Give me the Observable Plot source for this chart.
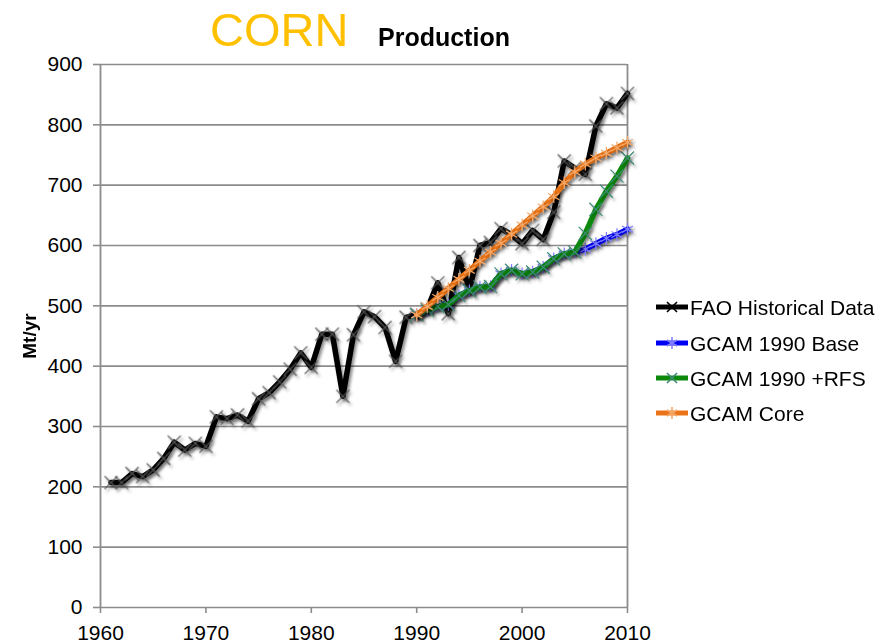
<!DOCTYPE html>
<html>
<head>
<meta charset="utf-8">
<script src="https://cdn.jsdelivr.net/npm/d3@7"></script>
<script src="https://cdn.jsdelivr.net/npm/@observablehq/plot@0.6"></script>
<style>
  html, body { margin: 0; padding: 0; background: #fff; }
  #wrap { position: relative; width: 879px; height: 644px; overflow: hidden; }
  #chart svg { position: absolute; left: 0; top: 0; }
  #overlay { position: absolute; left: 0; top: 0; pointer-events: none; }
</style>
</head>
<body>
<div id="wrap">
  <div id="chart"></div>
  <svg id="overlay" width="879" height="644"></svg>
</div>
<script>
// ---- data ----
const faoYears = [1961,1962,1963,1964,1965,1966,1967,1968,1969,1970,
                  1971,1972,1973,1974,1975,1976,1977,1978,1979,1980,
                  1981,1982,1983,1984,1985,1986,1987,1988,1989,1990,
                  1991,1992,1993,1994,1995,1996,1997,1998,1999,2000,
                  2001,2002,2003,2004,2005,2006,2007,2008,2009,2010];
const faoValues = [207,207,222,217,228,247,274,261,272,267,
                   316,313,319,309,346,356,374,395,422,398,
                   453,453,350,452,490,482,464,408,481,486,
                   495,538,487,580,527,600,605,628,618,603,
                   625,610,655,740,728,718,798,835,828,852];
const gcamYears = [1990,1991,1992,1993,1994,1995,1996,1997,1998,1999,2000,
                   2001,2002,2003,2004,2005,2006,2007,2008,2009,2010];
const base1990Values = [485,493,499,502,517,525,531,532,553,559,553,
                        556,564,578,586,589,594,603,612,618,627];
const rfs1990Values  = [485,493,499,502,517,525,531,532,553,559,553,
                        556,564,578,586,589,620,660,690,715,745];
const coreValues     = [485,499,514,529,544,559,574,589,604,619,634,
                        649,664,681,704,722,735,745,753,762,771];
const seriesNames = ["FAO Historical Data","GCAM 1990 Base","GCAM 1990 +RFS","GCAM Core"];
const xTicks = [1960,1970,1980,1990,2000,2010];
const yTicks = [0,100,200,300,400,500,600,700,800,900];

const fao = faoYears.map((y,i)=>({year:y, value:faoValues[i]}));
const base = gcamYears.map((y,i)=>({year:y, value:base1990Values[i]}));
const rfs = gcamYears.map((y,i)=>({year:y, value:rfs1990Values[i]}));
const core = gcamYears.map((y,i)=>({year:y, value:coreValues[i]}));

const styles = [
  {line:"#000000", mark:"#555555", symbol:"times"},
  {line:"#0000f5", mark:"#8080ff", symbol:"asterisk"},
  {line:"#0a890a", mark:"#3d8a78", symbol:"times"},
  {line:"#ec7418", mark:"#f5a868", symbol:"asterisk"}
];
const datasets = [fao, base, rfs, core];

const seriesMarks = [];
datasets.forEach((d,i)=>{
  seriesMarks.push(Plot.line(d, {x:"year", y:"value", stroke:styles[i].line, strokeWidth:5.5, strokeLinejoin:"round", strokeLinecap:"round"}));
  seriesMarks.push(Plot.dot(d, {x:"year", y:"value", symbol:styles[i].symbol, r:6, stroke:styles[i].mark, strokeWidth:1.2}));
});

const chart = Plot.plot({
  width: 879,
  height: 644,
  marginLeft: 100,
  marginRight: 252,
  marginTop: 64,
  marginBottom: 37,
  style: {fontFamily: "'Liberation Sans', Arial, sans-serif", fontSize: "21px", color: "#000", background: "transparent"},
  x: {domain: [1960, 2010]},
  y: {domain: [0, 900]},
  marks: [
    Plot.ruleY(yTicks, {stroke: "#8c8c8c", strokeWidth: 1.6}),
    Plot.ruleX([1960, 2010], {stroke: "#8c8c8c", strokeWidth: 1.8}),
    Plot.axisX({ticks: xTicks, tickFormat: d => String(d), tickSize: 6, tickPadding: 12, stroke: "#8c8c8c", strokeWidth: 1.6, label: null}),
    Plot.axisY({ticks: yTicks, tickSize: 7, tickPadding: 11, stroke: "#8c8c8c", strokeWidth: 1.6, label: null}),
    ...seriesMarks
  ]
});
document.getElementById("chart").appendChild(chart);

// drop shadow on series
const ns = "http://www.w3.org/2000/svg";
const defs = document.createElementNS(ns, "defs");
defs.innerHTML = '<filter id="shadow" x="-20%" y="-20%" width="140%" height="140%"><feDropShadow dx="2" dy="2.5" stdDeviation="1.4" flood-color="#000" flood-opacity="0.45"/></filter>';
chart.insertBefore(defs, chart.firstChild);
chart.querySelectorAll('g[aria-label="line"], g[aria-label="dot"]').forEach(g => g.setAttribute("filter", "url(#shadow)"));

// overlay: title, y label, legend
const ov = d3.select("#overlay");
ov.append("text").attr("x", 210).attr("y", 46).attr("font-family", "'Liberation Sans', Arial, sans-serif")
  .attr("font-size", 47).attr("fill", "#ffc000").text("CORN");
ov.append("text").attr("x", 378).attr("y", 46).attr("font-family", "'Liberation Sans', Arial, sans-serif")
  .attr("font-size", 25).attr("font-weight", "bold").attr("fill", "#000").text("Production");
ov.append("text").attr("transform", "translate(36,336) rotate(-90)").attr("text-anchor", "middle")
  .attr("font-family", "'Liberation Sans', Arial, sans-serif").attr("font-size", 19).attr("font-weight", "bold")
  .attr("fill", "#000").text("Mt/yr");

const legendY = [307, 343, 378, 413];
const symPath = {
  times: "M-5,-5L5,5M-5,5L5,-5",
  asterisk: "M0,-6L0,6M-5.2,-3L5.2,3M-5.2,3L5.2,-3"
};
seriesNames.forEach((name, i) => {
  const g = ov.append("g").attr("transform", `translate(0,${legendY[i]})`);
  g.append("line").attr("x1", 656).attr("x2", 688).attr("y1", 0).attr("y2", 0)
    .attr("stroke", styles[i].line).attr("stroke-width", 5);
  g.append("path").attr("transform", "translate(672,0)").attr("d", symPath[styles[i].symbol])
    .attr("stroke", i === 0 ? "#000" : styles[i].mark).attr("stroke-width", 1.6).attr("fill", "none");
  g.append("text").attr("x", 690).attr("y", 7.5).attr("font-family", "'Liberation Sans', Arial, sans-serif")
    .attr("font-size", 21).attr("fill", "#000").text(name);
});
</script>
</body>
</html>
